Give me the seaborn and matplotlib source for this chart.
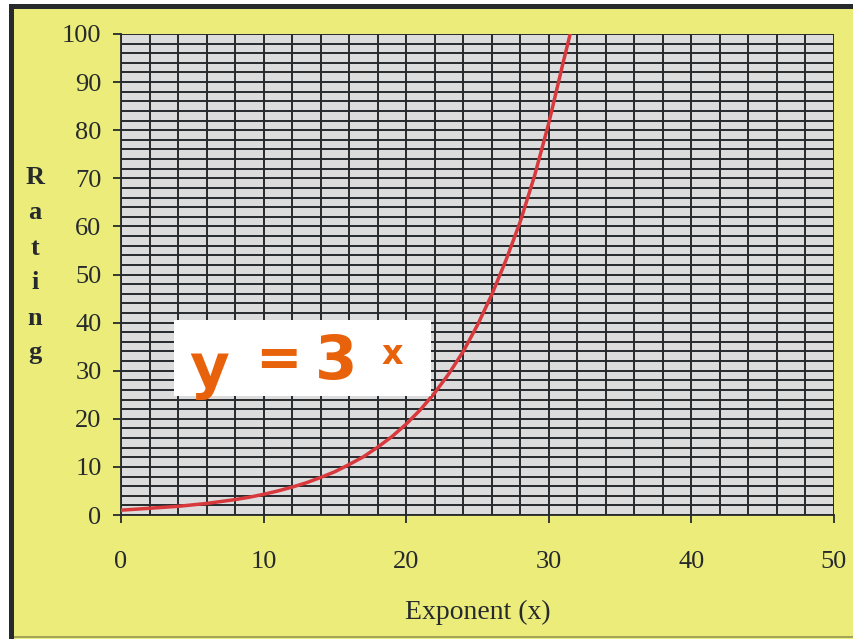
import matplotlib
matplotlib.use("Agg")
import matplotlib.pyplot as plt
from matplotlib.patches import Rectangle
from matplotlib.ticker import MultipleLocator
import seaborn as sns
import pandas as pd

# ---- data ----
exponent = [0, 1, 2, 3, 4, 5, 6, 7, 8, 9, 10, 11, 12, 13, 14, 15, 16, 17, 18, 19,
            20, 21, 22, 23, 24, 25, 26, 27, 28, 29, 30, 31, 31.5]
rating = [1.0, 1.2, 1.4, 1.6, 1.8, 2.1, 2.4, 2.8, 3.2, 3.7, 4.3, 5.0, 5.8, 6.7, 7.8,
          9.0, 10.5, 12.1, 14.1, 16.3, 18.9, 21.9, 25.4, 29.4, 34.0, 39.5, 45.8,
          53.0, 61.0, 70.5, 81.5, 94.0, 100.0]
x_ticks = [0, 10, 20, 30, 40, 50]
y_ticks = [0, 10, 20, 30, 40, 50, 60, 70, 80, 90, 100]
x_label = "Exponent (x)"
y_label = "Rating"
formula_parts = ["y", "=", "3", "x"]

df = pd.DataFrame({"x": exponent, "y": rating})

W, H = 854, 639
YELLOW = "#ecec7b"
DARK = "#262a2c"
fig = plt.figure(figsize=(W / 100, H / 100), dpi=100, facecolor=YELLOW)

def px_rect(x0, y0, x1, y1, **kw):
    # pixel coords from top-left
    r = Rectangle((x0 / W, 1 - y1 / H), (x1 - x0) / W, (y1 - y0) / H,
                  transform=fig.transFigure, **kw)
    fig.patches.append(r)
    return r

# outer frame
px_rect(0, 0, W, 4, facecolor="white", edgecolor="none", zorder=0.5)
px_rect(0, 0, 9, H, facecolor="white", edgecolor="none", zorder=0.5)
px_rect(9, 4, W, 9, facecolor=DARK, edgecolor="none", zorder=0.6)
px_rect(9, 4, 14, H, facecolor=DARK, edgecolor="none", zorder=0.6)
px_rect(14, 636, W, 637.5, facecolor="#a3a35a", edgecolor="none", zorder=0.6)

ax = fig.add_axes([121 / W, 1 - 515 / H, 713 / W, 481 / H])
ax.set_facecolor("#dcdcdc")

sns.lineplot(data=df, x="x", y="y", ax=ax, color="#d8393c", linewidth=2.5,
             zorder=3, legend=False)

ax.set_xlim(0, 50)
ax.set_ylim(0, 100)
ax.set_xticks(x_ticks)
ax.set_yticks(y_ticks)
ax.xaxis.set_minor_locator(MultipleLocator(2))
ax.yaxis.set_minor_locator(MultipleLocator(2))
ax.grid(True, which="both", color=DARK, linewidth=1.4)
ax.set_axisbelow(True)
ax.tick_params(which="minor", length=0)
ax.tick_params(which="major", direction="out", length=6, width=1.3, color=DARK,
               labelcolor=DARK)
ax.tick_params(axis="y", pad=8)
ax.tick_params(axis="x", pad=20)
for lab in ax.get_xticklabels() + ax.get_yticklabels():
    lab.set_fontfamily("Liberation Serif")
    lab.set_fontsize(19)
for side in ["top", "right"]:
    ax.spines[side].set_visible(False)
for side in ["left", "bottom"]:
    ax.spines[side].set_color(DARK)
    ax.spines[side].set_linewidth(1.3)

ax.set_xlabel(x_label, fontfamily="Liberation Serif", fontsize=20, color=DARK,
              labelpad=19)
ax.set_ylabel("")
# vertical stacked y label
letter_y = [177, 213, 248, 283, 318, 352]
for ch, yy in zip(y_label, letter_y):
    fig.text(35 / W, 1 - yy / H, ch, ha="center", va="center",
             fontfamily="Liberation Serif", fontweight="bold", fontsize=19,
             color=DARK)

# formula box
px_rect(174, 320, 431, 396, facecolor="white", edgecolor="none", zorder=5)
ORANGE = "#e8620c"
pos = [(209, 370, 44), (278, 361, 40), (336, 363, 44), (392, 354, 24)]
for txt, (xx, yy, fs) in zip(formula_parts, pos):
    fig.text(xx / W, 1 - yy / H, txt, ha="center", va="center",
             fontfamily="DejaVu Sans", fontweight="bold", fontsize=fs,
             color=ORANGE, zorder=6)

fig.savefig("out.png", dpi=100, facecolor=YELLOW)
